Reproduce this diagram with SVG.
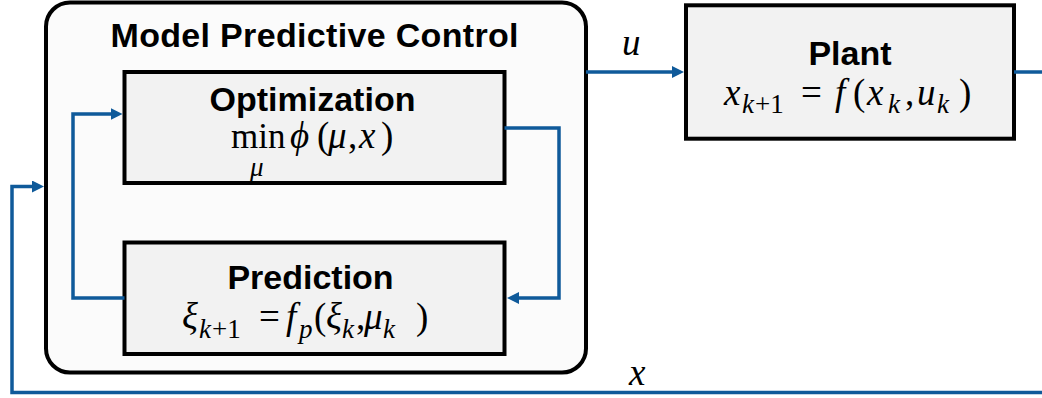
<svg xmlns="http://www.w3.org/2000/svg" width="1042" height="398" viewBox="0 0 1042 398">
  <style>
    .box { fill: #f2f2f2; stroke: #000; stroke-width: 4; }
    .outer { fill: #fbfbfb; stroke: #000; stroke-width: 4; }
    .title { font-family: "Liberation Sans", Arial, Helvetica, sans-serif; font-weight: bold; font-size: 34px; fill: #000; text-anchor: middle; }
    .math { font-family: "Liberation Serif", "Times New Roman", serif; font-size: 37px; fill: #000; }
    .it { font-style: italic; }
    .sub { font-size: 27px; font-style: italic; }
    .subr { font-size: 27px; font-style: normal; }
    .conn { fill: none; stroke: #0f5a9a; stroke-width: 3.5; stroke-linejoin: miter; }
  </style>
  <defs>
    <marker id="arrow" markerUnits="userSpaceOnUse" markerWidth="14" markerHeight="14" refX="2" refY="6" orient="auto">
      <path d="M0,0 L12,6 L0,12 z" fill="#0f5a9a"/>
    </marker>
  </defs>

  <rect width="1042" height="398" fill="#ffffff"/>

  <g id="mpc">
    <rect class="outer" x="46" y="2.5" width="540" height="370" rx="24" ry="24"/>
    <text class="title" x="314.5" y="47" textLength="408" lengthAdjust="spacing">Model Predictive Control</text>
  </g>

  <g id="optimization">
    <rect class="box" x="124.5" y="72" width="380" height="111"/>
    <text class="title" x="312.5" y="111">Optimization</text>
    <text class="math"><tspan x="231" y="148" font-size="35">min</tspan><tspan class="it" x="290" y="148">ϕ</tspan><tspan x="317" y="148">(</tspan><tspan class="it" x="328" y="148">μ</tspan><tspan x="348" y="148">,</tspan><tspan class="it" x="359" y="148">x</tspan><tspan x="381" y="148">)</tspan></text>
    <text class="math sub" x="250" y="176" font-size="25">μ</text>
  </g>

  <g id="prediction">
    <rect class="box" x="124.5" y="242.5" width="380" height="111.5"/>
    <text class="title" x="310.5" y="289">Prediction</text>
    <text class="math"><tspan class="it" x="182" y="329">ξ</tspan><tspan class="sub" x="199" y="338">k</tspan><tspan class="subr" x="212" y="338">+1</tspan><tspan x="259" y="329">=</tspan><tspan class="it" x="286" y="329">f</tspan><tspan class="sub" x="299" y="338">p</tspan><tspan x="314" y="329">(</tspan><tspan class="it" x="326" y="329">ξ</tspan><tspan class="sub" x="342" y="338">k</tspan><tspan x="356" y="329">,</tspan><tspan class="it" x="364" y="329">μ</tspan><tspan class="sub" x="383" y="338">k</tspan><tspan x="416" y="329">)</tspan></text>
  </g>

  <g id="plant">
    <rect class="box" x="686" y="5.3" width="328" height="133.4"/>
    <text class="title" x="850" y="65">Plant</text>
    <text class="math"><tspan class="it" x="724" y="105">x</tspan><tspan class="sub" x="742" y="113">k</tspan><tspan class="subr" x="755" y="113">+1</tspan><tspan x="801" y="105">=</tspan><tspan class="it" x="835" y="105">f</tspan><tspan x="853" y="105">(</tspan><tspan class="it" x="867" y="105">x</tspan><tspan class="sub" x="888" y="113">k</tspan><tspan x="905" y="105">,</tspan><tspan class="it" x="917" y="105">u</tspan><tspan class="sub" x="937" y="113">k</tspan><tspan x="959" y="105">)</tspan></text>
  </g>

  <g id="connectors">
    <path class="conn" d="M586,72 L674,72" marker-end="url(#arrow)"/>
    <path class="conn" d="M1014,72 L1042,72"/>
    <path class="conn" d="M1042,392.5 L12,392.5 L12,186.5 L34,186.5" marker-end="url(#arrow)"/>
    <path class="conn" d="M504.5,128 L559,128 L559,298 L517,298" marker-end="url(#arrow)"/>
    <path class="conn" d="M124.5,298 L73,298 L73,114 L112.5,114" marker-end="url(#arrow)"/>
  </g>

  <g id="labels">
    <text class="math it" x="622" y="55">u</text>
    <text class="math it" x="629" y="385">x</text>
  </g>
</svg>
